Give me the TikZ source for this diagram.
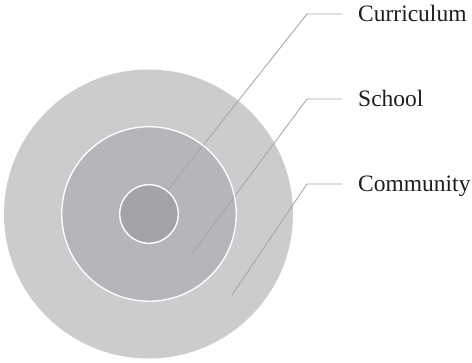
\documentclass[tikz,border=0pt]{standalone}
\usepackage{fontspec}
\setmainfont{Liberation Serif}
\usepackage{tikz}
\usetikzlibrary{positioning}
\definecolor{ringout}{HTML}{CBCCCE}
\definecolor{ringmid}{HTML}{B5B6B9}
\definecolor{ringin}{HTML}{A3A4A7}
\definecolor{leader}{HTML}{A8A8A8}
\definecolor{ink}{HTML}{1E1E1E}
\tikzset{
    %Define style for the rings
    ring/.style={
           circle,
           inner sep=0pt,
           outer sep=0pt},
    %Define style for the white edge of a ring
    rim/.style={
           draw=white,
           line width=1.4pt},
    %Define style for the labels
    tag/.style={
           inner sep=0pt,
           anchor=base west,
           text=ink,
           font=\fontsize{23.5}{27}\selectfont},
    % Define leader line style
    lead/.style={
           draw=leader,
           line width=0.9pt}
}
\begin{document}
\begin{tikzpicture}[x=1pt,y=1pt]
\useasboundingbox (0,0) rectangle (472,363);
 %rings
\coordinate (c) at (149,149);
\node[ring, fill=ringout, minimum size=289pt] (community) at (148.5,149) {};
\node[ring, fill=ringmid, minimum size=176pt] (school) at (c) {};
\node[ring, fill=ringin, minimum size=60pt] (curriculum) at (c) {};
 %leader points
\coordinate (curA) at (149.3,149.7);
\coordinate (curB) at (307,349);
\coordinate (curC) at (342,349);
\coordinate (schA) at (191,108);
\coordinate (schB) at (307,264);
\coordinate (schC) at (342,264);
\coordinate (comA) at (232,68);
\coordinate (comB) at (307,179);
\coordinate (comC) at (342,179);
 %leaders
\draw[lead] (curA) -- (curB) -- (curC);
\draw[lead] (schA) -- (schB) -- (schC);
\draw[lead] (comA) -- (comB) -- (comC);
 %white edges
\draw[rim] (school.center) circle (87.3);
\draw[rim] (curriculum.center) circle (29.3);
 %labels
\node[tag] (curlabel) at ([xshift=16pt,yshift=-8pt]curC) {Curriculum};
\node[tag] (schlabel) at ([xshift=16pt,yshift=-8pt]schC) {School};
\node[tag] (comlabel) at ([xshift=16pt,yshift=-8pt]comC) {Community};
\end{tikzpicture}
\end{document}
